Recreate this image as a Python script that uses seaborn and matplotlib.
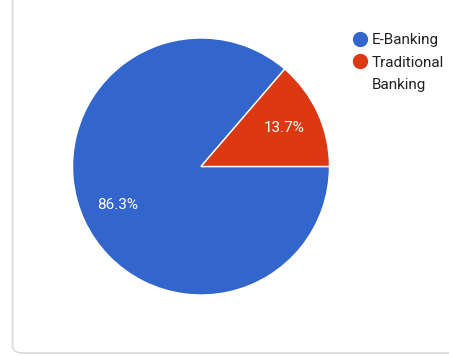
import numpy as np
import matplotlib
matplotlib.use("Agg")
import matplotlib.pyplot as plt
from matplotlib.patches import FancyBboxPatch
from matplotlib.lines import Line2D
import seaborn as sns

categories = ["E-Banking", "Traditional Banking"]
values = [86.3, 13.7]
colors = ["#3366CC", "#DC3912"]

sns.set_theme(style="white")
plt.rcParams["font.family"] = ["Roboto", "DejaVu Sans"]

W, H = 449, 356
fig = plt.figure(figsize=(W / 100, H / 100), dpi=100)
fig.patch.set_facecolor("white")

# card border
card = FancyBboxPatch((12.5 / W, 3.0 / H), (W + 20) / W, (H + 20) / H,
                      boxstyle="round,pad=0,rounding_size=0.022",
                      transform=fig.transFigure, facecolor="none",
                      edgecolor="#dcdcdc", linewidth=1.3, zorder=-1)
fig.patches.append(card)

cx, cy, r = 201, 166.5, 128.5
ax = fig.add_axes([(cx - r) / W, (H - cy - r) / H, 2 * r / W, 2 * r / H])
ax.set_facecolor("none")
wedges, _, autotexts = ax.pie(values, colors=colors, startangle=0,
                              counterclock=False, radius=1,
                              autopct="%.1f%%", pctdistance=0.715,
                              wedgeprops=dict(edgecolor="white", linewidth=1))
for t in autotexts:
    t.set_color("white")
    t.set_fontsize(11)
ax.set_xlim(-1, 1)
ax.set_ylim(-1, 1)
ax.set_aspect("equal")
ax.axis("off")

# legend: first line of each label, wrapped remainder added beneath
first_lines = [c.split(" ")[0] if " " in c else c for c in categories]
rest_lines = [c.split(" ", 1)[1] if " " in c else "" for c in categories]
handles = [Line2D([0], [0], marker="o", linestyle="none", markersize=10,
                  markerfacecolor=c, markeredgecolor=c) for c in colors]
leg = fig.legend(handles, first_lines, loc="upper left",
                 bbox_to_anchor=(352 / W, 1 - 33 / H), frameon=False,
                 fontsize=11, handletextpad=0.28, labelspacing=0.56,
                 handlelength=1.0, borderpad=0, borderaxespad=0)
for t in leg.get_texts():
    t.set_color("#222222")

fig.canvas.draw()
inv = fig.transFigure.inverted()
for t, extra in zip(leg.get_texts(), rest_lines):
    if extra:
        bb = t.get_window_extent()
        x0, y1 = inv.transform((bb.x0, bb.y1))
        fig.text(x0, y1 - 22 / H, extra, fontsize=11, color="#222222",
                 ha="left", va="top")

fig.savefig("out.png", dpi=100, facecolor="white")
